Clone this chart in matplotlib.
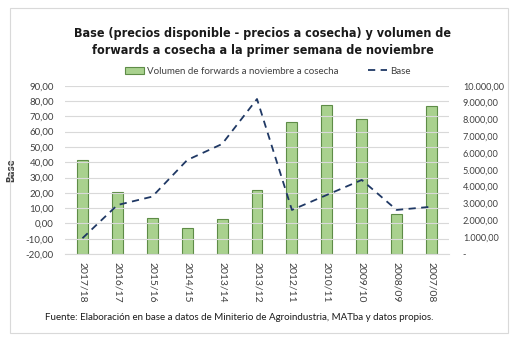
import matplotlib
matplotlib.use("Agg")
import matplotlib.pyplot as plt
from matplotlib.patches import Rectangle
from matplotlib.lines import Line2D
from matplotlib.ticker import FuncFormatter

campanas = ["2017/18", "2016/17", "2015/16", "2014/15", "2013/14", "2013/12",
            "2012/11", "2010/11", "2009/10", "2008/09", "2007/08"]
volumen = [5570, 3670, 2140, 1530, 2060, 3820, 7820, 8870, 8000, 2360, 8810]
base = [-9.7, 12.0, 17.5, 41.4, 51.9, 81.3, 8.8, 18.6, 28.4, 8.8, 10.9]

fam = ["DejaVu Sans"]
body = ["Lato", "DejaVu Sans"]

fig = plt.figure(figsize=(5.2, 3.44), dpi=100)
fig.patches.append(Rectangle((10 / 520, 1 - 333 / 344), 498 / 520, 325 / 344,
                             transform=fig.transFigure, fill=False,
                             edgecolor="#d9d9d9", lw=0.8))

ax = fig.add_axes([65 / 520, 1 - 254 / 344, 384 / 520, 168.3 / 344])
ax2 = ax.twinx()

x = list(range(len(campanas)))
ax2.bar(x, volumen, width=0.31, color="#a9d18e", edgecolor="#5e8c47", lw=0.8, zorder=2)
ax.plot(x, base, color="#1f3864", lw=1.3, dashes=(4, 3), zorder=5)
ax.set_zorder(ax2.get_zorder() + 1)
ax.patch.set_visible(False)

ax.set_xlim(-0.5, len(campanas) - 0.5)
ax.set_ylim(-20, 90)
ax.set_yticks(range(-20, 91, 10))
ax2.set_ylim(0, 10000)
ax2.set_yticks(range(0, 10001, 1000))

def fmt_left(v, pos):
    return f"{v:.2f}".replace(".", ",")

def fmt_right(v, pos):
    if v == 0:
        return "-"
    return f"{v:,.2f}".replace(",", "X").replace(".", ",").replace("X", ".")

ax.yaxis.set_major_formatter(FuncFormatter(fmt_left))
ax2.yaxis.set_major_formatter(FuncFormatter(fmt_right))

for a in (ax, ax2):
    for s in a.spines.values():
        s.set_visible(False)
    a.tick_params(length=0, labelsize=7, colors="#404040")
    for t in a.get_yticklabels():
        t.set_family(body)
ax2.tick_params(axis="y", labelsize=6.6, pad=10)
ax.grid(axis="y", color="#d9d9d9", lw=0.8)
ax.spines["bottom"].set_visible(True)
ax.spines["bottom"].set_color("#d9d9d9")
ax.set_axisbelow(True)
ax.tick_params(axis="y", pad=8)

ax.set_xticks(x)
ax.set_xticklabels(campanas, rotation=270, fontsize=7.5, color="#404040", family=body)
ax.tick_params(axis="x", pad=6)

ax.set_ylabel("Base", fontsize=7, fontweight="bold", color="#404040", labelpad=7,
              family=["DejaVu Sans"], fontstretch="condensed")

fig.text(0.505, 1 - 42 / 344,
         "Base (precios disponible - precios a cosecha) y volumen de\n"
         "forwards a cosecha a la primer semana de noviembre",
         ha="center", va="center", fontsize=9, fontweight="bold",
         family=fam, fontstretch="condensed", linespacing=1.35, color="#1a1a1a")

handles = [Rectangle((0, 0), 1, 1, facecolor="#a9d18e", edgecolor="#5e8c47", lw=0.8),
           Line2D([0], [0], color="#1f3864", lw=1.3, dashes=(4, 3))]
fig.legend(handles, ["Volumen de forwards a noviembre a cosecha", "Base"],
           loc="center", bbox_to_anchor=(0.515, 1 - 71 / 344), ncol=2, frameon=False,
           prop={"family": body, "size": 7}, handlelength=2.0, handleheight=0.7,
           columnspacing=3, handletextpad=0.3, labelcolor="#404040")

fig.text(45 / 520, 1 - 317 / 344,
         "Fuente: Elaboración en base a datos de Miniterio de Agroindustria, MATba y datos propios.",
         ha="left", va="center", fontsize=7, family=body, color="#1a1a1a")

fig.savefig("out.png", dpi=100)
